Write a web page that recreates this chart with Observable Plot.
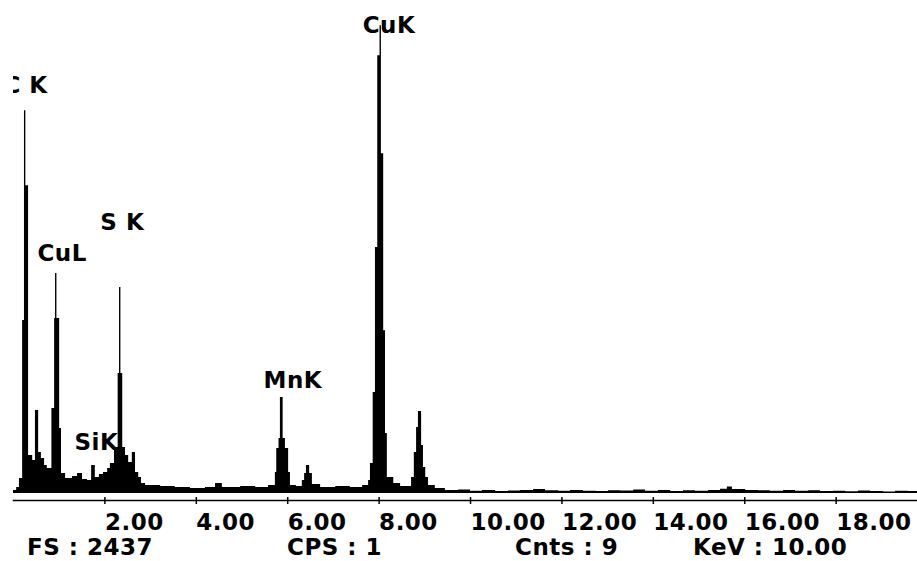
<!DOCTYPE html>
<html><head><meta charset="utf-8">
<script src="https://cdn.jsdelivr.net/npm/d3@7"></script>
<script src="https://cdn.jsdelivr.net/npm/@observablehq/plot@0.6"></script>
<style>
body{margin:0;background:#fff;}
#chart svg text{letter-spacing:0.5px;}
#info{position:relative;height:26px;font:bold 23px "DejaVu Sans",sans-serif;line-height:23px;color:#000;letter-spacing:0.5px;}
#info span{position:absolute;top:1px;white-space:pre;}
</style></head><body>
<div id="chart"></div>
<div id="info"></div>
<script>
// Channel left edges (keV) and counts
const energyKeV = [
  0, 0.07, 0.13, 0.20, 0.24, 0.27, 0.33, 0.42, 0.48, 0.55,
  0.61, 0.68, 0.74, 0.84, 0.90, 0.92, 0.95, 1.01, 1.05, 1.14,
  1.29, 1.40, 1.51, 1.62, 1.71, 1.79, 1.88, 1.97, 2.06, 2.12,
  2.21, 2.29, 2.32, 2.35, 2.39, 2.45, 2.52, 2.60, 2.67, 2.74,
  2.80, 2.89, 3.22, 3.54, 3.87, 4.20, 4.42, 4.57, 4.97, 5.30,
  5.58, 5.73, 5.76, 5.81, 5.84, 5.90, 5.95, 6.02, 6.06, 6.19,
  6.32, 6.37, 6.41, 6.48, 6.54, 6.72, 7.05, 7.37, 7.64, 7.77,
  7.81, 7.87, 7.92, 7.97, 8.02, 8.05, 8.10, 8.14, 8.18, 8.32,
  8.47, 8.71, 8.77, 8.82, 8.86, 8.93, 8.97, 9.02, 9.08, 9.23,
  9.45, 9.74, 10.00, 10.26, 10.55, 10.83, 11.09, 11.38, 11.64, 11.93,
  12.19, 12.47, 12.76, 13.02, 13.28, 13.57, 13.83, 14.11, 14.38, 14.66,
  14.92, 15.21, 15.47, 15.62, 15.73, 16.02, 16.30, 16.56, 16.85, 17.11,
  17.40, 17.66, 17.94, 18.21, 18.49, 18.75, 19.04, 19.30, 19.58, 19.78
];
const counts = [
  15, 31, 77, 891, 1972, 1586, 196, 170, 427, 211,
  180, 144, 129, 438, 901, 1133, 901, 335, 103, 77,
  88, 103, 72, 67, 144, 82, 98, 108, 129, 155,
  237, 618, 1061, 618, 237, 196, 160, 211, 108, 82,
  52, 41, 36, 31, 26, 31, 52, 31, 36, 31,
  41, 108, 232, 283, 494, 283, 232, 108, 41, 36,
  67, 103, 144, 103, 46, 31, 36, 31, 41, 67,
  155, 520, 1267, 2256, 2410, 1751, 839, 309, 82, 52,
  36, 82, 211, 340, 422, 247, 134, 82, 41, 26,
  15, 18, 12, 15, 10, 13, 16, 20, 14, 12,
  15, 11, 10, 14, 13, 18, 12, 15, 10, 14,
  12, 16, 22, 33, 20, 16, 14, 12, 15, 11,
  14, 10, 12, 9, 13, 10, 8, 12, 10, 10
];
const fullScale = 2437;
const tickValues = [2, 4, 6, 8, 10, 12, 14, 16, 18];
const peakLabels = ["C K", "CuL", "S K", "SiK", "MnK", "CuK"];
const peakLabelKeV = [-0.22, 0.525, 1.90, 1.335, 5.47, 7.64];
const peakLabelCounts = [2061, 1200, 1360, 222, 546, 2375];
const infoLabels = ["FS : 2437", "CPS : 1", "Cnts : 9", "KeV : 10.00"];

const fmt = d3.format(".2f");
const font = "'DejaVu Sans', sans-serif";
const labelOpts = {x: (d, i) => peakLabelKeV[i], y: (d, i) => peakLabelCounts[i], text: d => d,
  textAnchor: "start", lineAnchor: "bottom", fill: "black", fontSize: 23, fontWeight: "bold", fontFamily: font};
const chart = Plot.plot({
  width: 917, height: 535,
  marginTop: 20, marginBottom: 35, marginLeft: 13, marginRight: 0,
  insetBottom: 7,
  x: {domain: [0, 19.78]},
  y: {domain: [0, fullScale], axis: null},
  style: {fontFamily: font, fontWeight: "bold", fontSize: "23px", color: "black", background: "white", overflow: "visible"},
  marks: [
    Plot.areaY(energyKeV, {x: d => d, y: (d, i) => counts[i], curve: "step-after", fill: "black"}),
    Plot.frame({anchor: "bottom", strokeWidth: 1.5}),
    Plot.axisX(tickValues, {tickSize: 7, dy: -3, tickFormat: () => "", strokeWidth: 1.5}),
    Plot.axisX(tickValues, {tickSize: 0, tickPadding: 13, textAnchor: "start", tickFormat: fmt, fontSize: 23, fontWeight: "bold", fontFamily: font}),
    // the first label is cut by the left edge of the plot area, as in the reference
    Plot.text(peakLabels, {...labelOpts, filter: (d, i) => i === 0, clip: true}),
    Plot.text(peakLabels, {...labelOpts, filter: (d, i) => i > 0})
  ]
});
document.getElementById("chart").appendChild(chart);

const infoLeft = [27, 287, 515, 693];
const info = document.getElementById("info");
infoLabels.forEach((t, i) => {
  const s = document.createElement("span");
  s.textContent = t;
  s.style.left = infoLeft[i] + "px";
  info.appendChild(s);
});
</script>
</body></html>
